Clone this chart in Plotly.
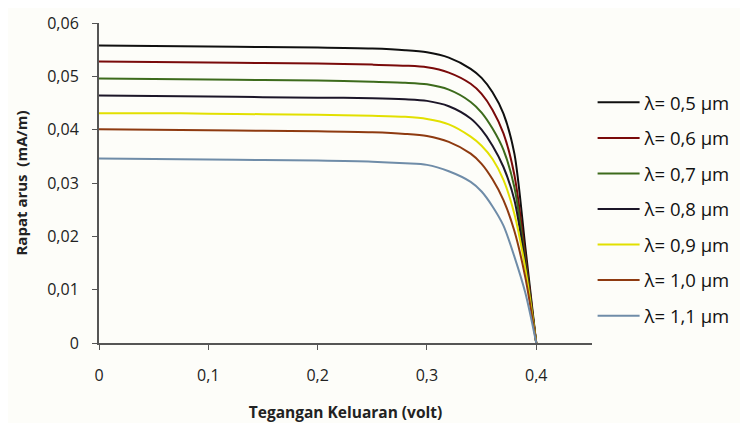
import plotly.graph_objects as go

# output voltage (volt)
tegangan = [0, 0.05, 0.1, 0.15, 0.2, 0.25, 0.28, 0.3, 0.32, 0.34, 0.35, 0.36, 0.37, 0.38, 0.39, 0.4]

# current density (mA/m) per wavelength
j_05 = [0.0558, 0.0557, 0.0556, 0.0555, 0.0554, 0.0552, 0.0549, 0.0545, 0.0535, 0.0514, 0.0497, 0.0470, 0.0430, 0.0355, 0.0180, 0]
j_06 = [0.0528, 0.0527, 0.0526, 0.0525, 0.0524, 0.0522, 0.0520, 0.0517, 0.0507, 0.0486, 0.0467, 0.0437, 0.0393, 0.0315, 0.0165, 0]
j_07 = [0.0496, 0.0495, 0.0494, 0.0493, 0.0492, 0.0490, 0.0488, 0.0485, 0.0475, 0.0452, 0.0432, 0.0402, 0.0362, 0.0292, 0.0155, 0]
j_08 = [0.0464, 0.0463, 0.0462, 0.0461, 0.0460, 0.0459, 0.0457, 0.0454, 0.0444, 0.0421, 0.0400, 0.0370, 0.0330, 0.0268, 0.0148, 0]
j_09 = [0.0431, 0.0431, 0.0430, 0.0429, 0.0428, 0.0426, 0.0424, 0.0420, 0.0410, 0.0387, 0.0370, 0.0345, 0.0306, 0.0242, 0.0140, 0]
j_10 = [0.0401, 0.0400, 0.0399, 0.0398, 0.0397, 0.0395, 0.0392, 0.0388, 0.0377, 0.0355, 0.0336, 0.0307, 0.0268, 0.0210, 0.0123, 0]
j_11 = [0.0346, 0.0345, 0.0344, 0.0343, 0.0342, 0.0340, 0.0337, 0.0334, 0.0322, 0.0302, 0.0284, 0.0256, 0.0220, 0.0162, 0.0094, 0]

labels = ["λ= 0,5 µm", "λ= 0,6 µm", "λ= 0,7 µm", "λ= 0,8 µm",
          "λ= 0,9 µm", "λ= 1,0 µm", "λ= 1,1 µm"]
series = [j_05, j_06, j_07, j_08, j_09, j_10, j_11]
colors = ["#101010", "#7a0a0a", "#3d6b1c", "#1c1628", "#e2e000", "#8e3a10", "#6f8ca8"]

x_ticks = [0, 0.1, 0.2, 0.3, 0.4]
x_ticktext = ["0", "0,1", "0,2", "0,3", "0,4"]
y_ticks = [0, 0.01, 0.02, 0.03, 0.04, 0.05, 0.06]
y_ticktext = ["0", "0,01", "0,02", "0,03", "0,04", "0,05", "0,06"]

fig = go.Figure()
for i, (lab, ys, col) in enumerate(zip(labels, series, colors)):
    fig.add_trace(go.Scatter(x=tegangan, y=ys, name=lab, mode="lines",
                             legendgroup="g%d" % i,
                             line=dict(color=col, width=2, shape="spline", smoothing=0.8)))

# page body adds an 8px offset, so the figure is made 8px smaller to fit the window
fig.update_layout(
    width=740, height=415,
    margin=dict(l=91, r=156, t=15, b=80),
    paper_bgcolor="#fdfdf9", plot_bgcolor="#fdfdf9",
    font=dict(family="Open Sans, DejaVu Sans, sans-serif", color="#222", size=16),
    legend=dict(x=0.79, xref="container", y=0.81, yref="paper",
                yanchor="top", xanchor="left", tracegroupgap=8.5, itemwidth=42,
                font=dict(size=18.5, color="#111"), bgcolor="rgba(0,0,0,0)"),
    xaxis=dict(range=[0, 0.451], tickvals=x_ticks, ticktext=x_ticktext, automargin=False,
               showline=True, linecolor="#555", linewidth=2, ticks="outside",
               tickcolor="#555", ticklen=5, showgrid=False, zeroline=False,
               ticklabelstandoff=12,
               title=dict(text="<b>Tegangan Keluaran (volt)</b>", font=dict(size=15.5), standoff=22)),
    yaxis=dict(range=[0, 0.06], tickvals=y_ticks, ticktext=y_ticktext, automargin=False,
               showline=True, linecolor="#555", linewidth=2, ticks="outside",
               tickcolor="#555", ticklen=5, showgrid=False, zeroline=False,
               ticklabelstandoff=10,
               title=dict(text="<b>Rapat arus  (mA/m)</b>", font=dict(size=15), standoff=16)),
)

fig.write_html("out.html")
